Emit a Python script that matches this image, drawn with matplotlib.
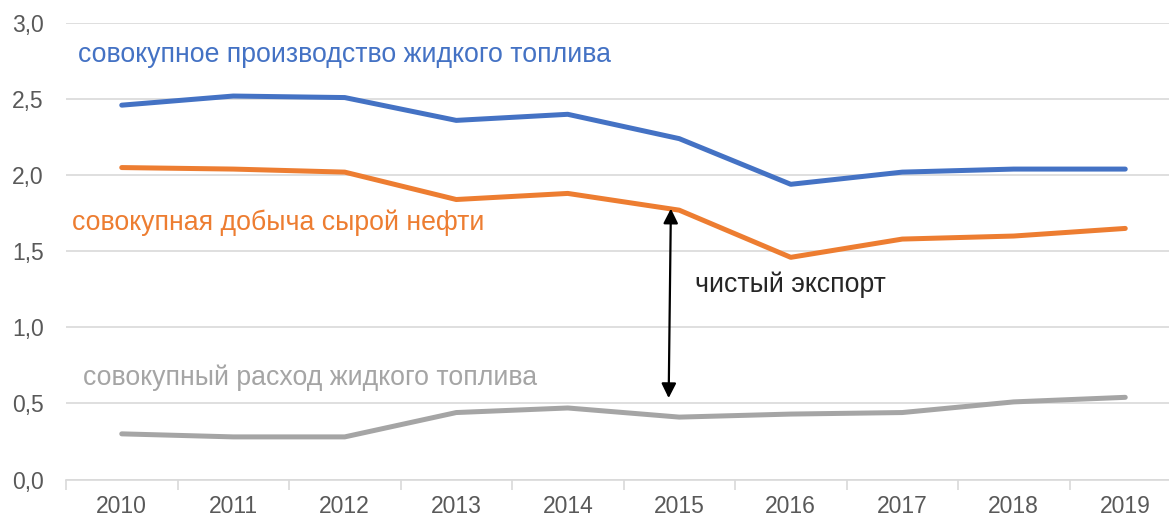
import numpy as np
import matplotlib.pyplot as plt
from matplotlib.ticker import FuncFormatter, FixedLocator

plt.rcParams['font.family'] = ['Liberation Sans', 'DejaVu Sans']

# --- Data ---
years = ['2010', '2011', '2012', '2013', '2014', '2015', '2016', '2017', '2018', '2019']
production = [2.46, 2.52, 2.51, 2.36, 2.40, 2.24, 1.94, 2.02, 2.04, 2.04]
crude = [2.05, 2.04, 2.02, 1.84, 1.88, 1.77, 1.46, 1.58, 1.60, 1.65]
consumption = [0.30, 0.28, 0.28, 0.44, 0.47, 0.41, 0.43, 0.44, 0.51, 0.54]

blue = '#4472C4'
orange = '#ED7D31'
gray = '#A5A5A5'
txt = '#595959'

fig = plt.figure(figsize=(11.69, 5.17), dpi=100)
ax = fig.add_axes([66 / 1169, 37.5 / 517, 1115 / 1169, 456.5 / 517])

x = np.arange(len(years))
for vals, c in [(production, blue), (crude, orange), (consumption, gray)]:
    ax.plot(x, vals, color=c, lw=3.6, solid_capstyle='round', solid_joinstyle='round')

ax.set_xlim(-0.5, len(years) - 0.5)
ax.set_ylim(0, 3.0)
ax.set_yticks(np.arange(0, 3.01, 0.5))
ax.yaxis.set_major_formatter(FuncFormatter(lambda v, p: f'{v:.1f}'.replace('.', ',')))
ax.grid(axis='y', color='#D9D9D9', lw=1.2)
ax.set_axisbelow(True)

ax.set_xticks(x)
ax.set_xticklabels(years)
ax.xaxis.set_minor_locator(FixedLocator(np.arange(-0.5, len(years), 1.0)))
ax.tick_params(axis='x', which='major', length=0, pad=11.5, labelsize=16.5, labelcolor=txt)
ax.tick_params(axis='x', which='minor', length=7, width=1.2, color='#D9D9D9')
ax.tick_params(axis='y', length=0, pad=16, labelsize=16.5, labelcolor=txt)

for s in ['top', 'right', 'left']:
    ax.spines[s].set_visible(False)
ax.spines['bottom'].set_color('#D9D9D9')
ax.spines['bottom'].set_linewidth(1.2)

fs = 19.2
ax.text(-0.393, 2.79, 'совокупное производство жидкого топлива', color=blue,
        fontsize=fs, va='center', ha='left')
ax.text(-0.447, 1.69, 'совокупная добыча сырой нефти', color=orange,
        fontsize=fs, va='center', ha='left')
ax.text(-0.348, 0.667, 'совокупный расход жидкого топлива', color=gray,
        fontsize=fs, va='center', ha='left')
ax.text(5.14, 1.278, 'чистый экспорт', color='#262626', fontsize=fs, va='center', ha='left')

ax.annotate('', xy=(4.925, 1.78), xytext=(4.905, 0.535),
            arrowprops=dict(arrowstyle='<|-|>', color='black', lw=1.6,
                            mutation_scale=22, shrinkA=0, shrinkB=0))

fig.savefig('out.png', dpi=100)
